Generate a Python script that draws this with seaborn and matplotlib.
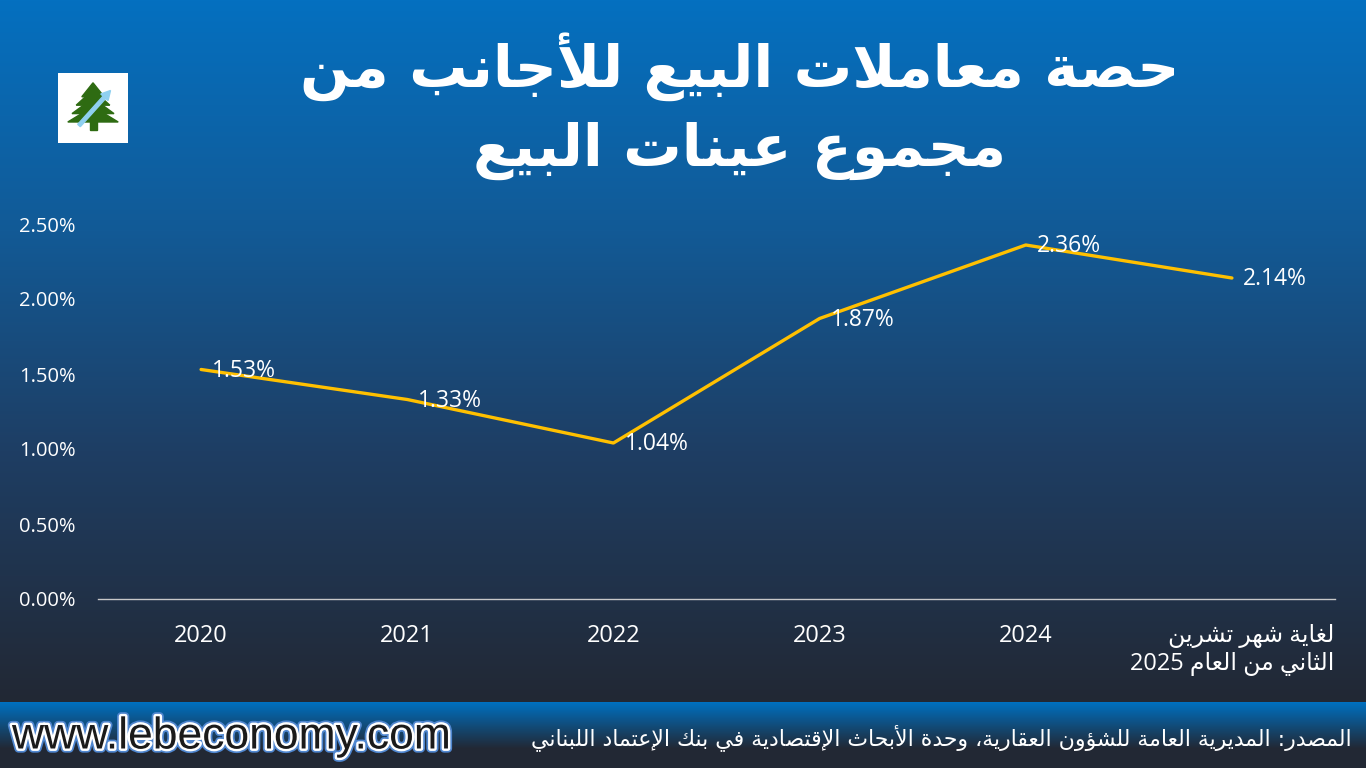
import re
import numpy as np
import pandas as pd
import matplotlib
matplotlib.use('Agg')
import matplotlib.pyplot as plt
import matplotlib.patheffects as pe
from matplotlib.patches import Rectangle, Polygon, FancyArrow
import seaborn as sns

# Data
periods = ['2020', '2021', '2022', '2023', '2024', 'لغاية شهر تشرين\nالثاني من العام 2025']
share = [1.53, 1.33, 1.04, 1.87, 2.36, 2.14]
y_ticks = [0.0, 0.5, 1.0, 1.5, 2.0, 2.5]
title = 'حصة معاملات البيع للأجانب من\nمجموع عينات البيع'
source = 'المصدر: المديرية العامة للشؤون العقارية، وحدة الأبحاث الإقتصادية في بنك الإعتماد اللبناني'
site = 'www.lebeconomy.com'

# Small Arabic shaper (matplotlib does no joining / RTL itself)
AR = {
    '\u0621': (0xFE80, 1), '\u0622': (0xFE81, 2), '\u0623': (0xFE83, 2),
    '\u0624': (0xFE85, 2), '\u0625': (0xFE87, 2), '\u0626': (0xFE89, 4),
    '\u0627': (0xFE8D, 2), '\u0628': (0xFE8F, 4), '\u0629': (0xFE93, 2),
    '\u062A': (0xFE95, 4), '\u062B': (0xFE99, 4), '\u062C': (0xFE9D, 4),
    '\u062D': (0xFEA1, 4), '\u062E': (0xFEA5, 4), '\u062F': (0xFEA9, 2),
    '\u0630': (0xFEAB, 2), '\u0631': (0xFEAD, 2), '\u0632': (0xFEAF, 2),
    '\u0633': (0xFEB1, 4), '\u0634': (0xFEB5, 4), '\u0635': (0xFEB9, 4),
    '\u0636': (0xFEBD, 4), '\u0637': (0xFEC1, 4), '\u0638': (0xFEC5, 4),
    '\u0639': (0xFEC9, 4), '\u063A': (0xFECD, 4), '\u0641': (0xFED1, 4),
    '\u0642': (0xFED5, 4), '\u0643': (0xFED9, 4), '\u0644': (0xFEDD, 4),
    '\u0645': (0xFEE1, 4), '\u0646': (0xFEE5, 4), '\u0647': (0xFEE9, 4),
    '\u0648': (0xFEED, 2), '\u0649': (0xFEEF, 2), '\u064A': (0xFEF1, 4),
}
LAM_ALEF = {'\u0622': 0xFEF5, '\u0623': 0xFEF7, '\u0625': 0xFEF9, '\u0627': 0xFEFB}


def shape_line(text):
    units = []
    i = 0
    while i < len(text):
        c = text[i]
        if c == '\u0644' and i + 1 < len(text) and text[i + 1] in LAM_ALEF:
            units.append(('LA', text[i + 1]))
            i += 2
        else:
            units.append(('C', c))
            i += 1

    def joins_next(u):
        return u[0] == 'C' and u[1] in AR and AR[u[1]][1] == 4

    def joins_prev(u):
        return u[0] == 'LA' or (u[1] in AR and AR[u[1]][1] >= 2)

    out = []
    for k, u in enumerate(units):
        p = k > 0 and joins_next(units[k - 1]) and joins_prev(u)
        n = k + 1 < len(units) and joins_next(u) and joins_prev(units[k + 1])
        if u[0] == 'LA':
            out.append(chr(LAM_ALEF[u[1]] + (1 if p else 0)))
            continue
        c = u[1]
        if c not in AR:
            out.append(c)
            continue
        base, nf = AR[c]
        if nf == 1:
            idx = 0
        elif nf == 2:
            idx = 1 if p else 0
        else:
            idx = {(False, False): 0, (True, False): 1, (False, True): 2, (True, True): 3}[(p, n)]
        out.append(chr(base + idx))
    vis = ''.join(out)[::-1]
    vis = re.sub(r'[0-9A-Za-z.%]+', lambda m: m.group(0)[::-1], vis)
    return vis


def shape(text):
    return '\n'.join(shape_line(t) for t in text.split('\n'))


sns.set_style('white')
plt.rcParams['font.family'] = ['Open Sans', 'DejaVu Sans']

fig = plt.figure(figsize=(13.66, 7.68), dpi=100)

# background gradient
W, H = 1366, 768
ys = np.arange(H)
stops_y = [0, 230, 450, 700]
stops_c = np.array([[4, 112, 192], [18, 90, 150], [30, 62, 100], [34, 40, 52]]) / 255
grad = np.stack([np.interp(ys, stops_y, stops_c[:, j]) for j in range(3)], axis=1)
# footer band
band = ys >= 702
fy = [702, 748, 768]
fc = np.array([[0, 112, 192], [34, 40, 52], [34, 40, 52]]) / 255
for j in range(3):
    grad[band, j] = np.interp(ys[band], fy, fc[:, j])
bg = fig.add_axes([0, 0, 1, 1], zorder=-10)
bg.imshow(np.repeat(grad[:, None, :], 4, axis=1), aspect='auto', extent=[0, 1, 0, 1])
bg.axis('off')

# main chart
ax = fig.add_axes([98 / W, 1 - 599 / H, (1335 - 98) / W, (599 - 224) / H])
ax.set_facecolor('none')
df = pd.DataFrame({'pos': range(len(periods)), 'share': share})
sns.lineplot(data=df, x='pos', y='share', color='#FFC000', linewidth=2.4, ax=ax)
for x, v in zip(df['pos'], df['share']):
    ax.annotate(f'{v:.2f}%', (x, v), xytext=(8, -1), textcoords='offset points',
                ha='left', va='center', color='white', fontsize=16.5)
ax.set_xlim(-0.5, len(periods) - 0.5)
ax.set_ylim(0, 2.5)
ax.set_yticks(y_ticks)
ax.set_yticklabels([f'{t:.2f}%' for t in y_ticks])
ax.set_xticks(range(len(periods)))
ax.set_xticklabels([shape(p) for p in periods], multialignment='right')
ax.tick_params(axis='y', length=0, pad=16, labelsize=14.5, labelcolor='white')
ax.tick_params(axis='x', length=0, pad=18, labelsize=17, labelcolor='white')
ax.set_xlabel('')
ax.set_ylabel('')
for s in ['top', 'right', 'left']:
    ax.spines[s].set_visible(False)
ax.spines['bottom'].set_color('#c8c8c8')
ax.spines['bottom'].set_linewidth(1)

# title
fig.text(740 / W, 1 - 106 / H, shape(title), ha='center', va='center', color='white',
         fontsize=42, fontweight='bold', family='DejaVu Sans', linespacing=1.45,
         multialignment='center')

# logo
lg = fig.add_axes([58 / W, 1 - 143 / H, 70 / W, 70 / H])
lg.set_xlim(0, 1)
lg.set_ylim(0, 1)
lg.axis('off')
lg.add_patch(Rectangle((0, 0), 1, 1, color='white'))
green = '#2e6b12'
for (yb, hw, yt) in [(0.30, 0.36, 0.52), (0.42, 0.30, 0.64), (0.54, 0.24, 0.76), (0.66, 0.16, 0.86)]:
    lg.add_patch(Polygon([(0.5 - hw, yb), (0.5 + hw, yb), (0.5, yt)], color=green))
lg.add_patch(Rectangle((0.45, 0.18), 0.1, 0.14, color=green))
lg.add_patch(FancyArrow(0.3, 0.25, 0.45, 0.5, width=0.05, head_width=0.14, head_length=0.13,
                        color='#8fd0f0', length_includes_head=True))

# footer
fig.text(12 / W, 1 - 737 / H, site, ha='left', va='center', fontsize=32, family='Liberation Sans',
         color='#1b1b1b',
         path_effects=[pe.Stroke(linewidth=6, foreground='#4f86cf'),
                       pe.Stroke(linewidth=3.5, foreground='white'), pe.Normal()])
fig.text(1352 / W, 1 - 738 / H, shape(source), ha='right', va='center', fontsize=15.8,
         color='white', family='DejaVu Sans')

fig.savefig('out.png', dpi=100)
